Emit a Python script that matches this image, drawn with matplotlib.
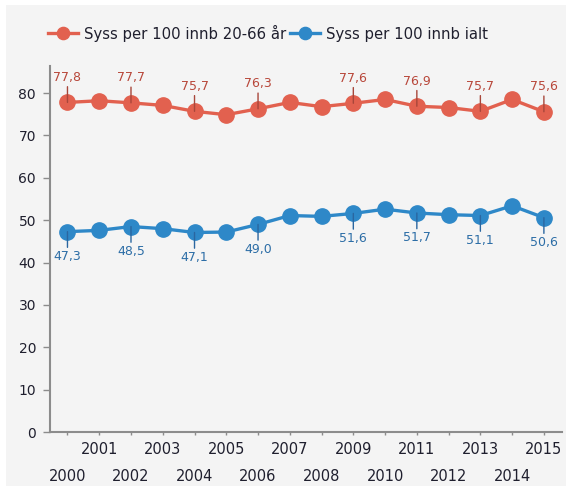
import matplotlib
matplotlib.use("Agg")
import matplotlib.pyplot as plt
from matplotlib.patches import Rectangle

years = list(range(2000, 2016))
red_label = "Syss per 100 innb 20-66 år"
blue_label = "Syss per 100 innb ialt"
red_values = [77.8, 78.2, 77.7, 77.1, 75.7, 74.9, 76.3, 77.8, 76.8, 77.6, 78.5, 76.9, 76.6, 75.7, 78.5, 75.6]
blue_values = [47.3, 47.6, 48.5, 48.0, 47.1, 47.2, 49.0, 51.1, 50.9, 51.6, 52.6, 51.7, 51.3, 51.1, 53.4, 50.6]
labeled_years = [2000, 2002, 2004, 2006, 2009, 2011, 2013, 2015]
y_ticks = [0, 10, 20, 30, 40, 50, 60, 70, 80]

red = "#E2614F"
blue = "#2E88C8"
red_txt = "#B8473A"
blue_txt = "#2C6DA6"
axis_col = "#8C8C8C"
txt_col = "#1F1F2E"
bg = "#F4F4F4"

W, H = 566, 486
fig = plt.figure(figsize=(W / 100, H / 100), dpi=100, facecolor="white")
fig.patches.append(Rectangle((6 / W, 0), 1, 1 - 5 / H, transform=fig.transFigure,
                             facecolor=bg, edgecolor="none", zorder=-10))

ax = fig.add_axes([50 / W, 1 - 432 / H, (562 - 50) / W, (432 - 66) / H])
ax.set_facecolor(bg)

x = list(range(len(years)))
ax.plot(x, red_values, color=red, lw=2.4, marker="o", ms=11, mec=red, mfc=red,
        label=red_label, zorder=3)
ax.plot(x, blue_values, color=blue, lw=2.4, marker="o", ms=11, mec=blue, mfc=blue,
        label=blue_label, zorder=3)

def fmt(v):
    return f"{v:.1f}".replace(".", ",")

for i, yr in enumerate(years):
    if yr in labeled_years:
        ax.annotate(fmt(red_values[i]), xy=(i, red_values[i]), xytext=(0, 18),
                    textcoords="offset points", ha="center", va="center",
                    fontsize=9, color=red_txt, zorder=5,
                    arrowprops=dict(arrowstyle="-", color="#A8463A", lw=1,
                                    shrinkA=0, shrinkB=0))
        ax.annotate(fmt(blue_values[i]), xy=(i, blue_values[i]), xytext=(0, -18),
                    textcoords="offset points", ha="center", va="center",
                    fontsize=9, color=blue_txt, zorder=5,
                    arrowprops=dict(arrowstyle="-", color="#2A66A0", lw=1,
                                    shrinkA=0, shrinkB=0))

ax.set_xlim(-0.55, len(years) - 1 + 0.57)
ax.set_ylim(0, 86.4)
ax.set_yticks(y_ticks)
ax.set_yticklabels([str(v) for v in y_ticks], fontsize=10, color=txt_col)

odd = [i for i, yr in enumerate(years) if yr % 2 == 1]
even = [i for i, yr in enumerate(years) if yr % 2 == 0]
ax.set_xticks(odd)
ax.set_xticklabels([str(years[i]) for i in odd], fontsize=10.5, color=txt_col)
ax.set_xticks(even, minor=True)
ax.set_xticklabels([str(years[i]) for i in even], minor=True, fontsize=10.5, color=txt_col)
ax.tick_params(axis="x", which="major", length=2.5, width=1, color=axis_col, pad=5)
ax.tick_params(axis="x", which="minor", length=2.5, width=1, color=axis_col, pad=24)
ax.tick_params(axis="y", length=5, width=1, color=axis_col, pad=5)

for s in ["top", "right"]:
    ax.spines[s].set_visible(False)
for s in ["left", "bottom"]:
    ax.spines[s].set_color(axis_col)
    ax.spines[s].set_linewidth(1.5)

fig.legend(loc="center", bbox_to_anchor=(268 / W, 1 - 33 / H), ncol=2, frameon=False,
           fontsize=10.7, handlelength=2.0, handletextpad=0.4, columnspacing=0.3,
           markerscale=0.8, labelcolor=txt_col)

fig.savefig("out.png", dpi=100, facecolor=fig.get_facecolor())
